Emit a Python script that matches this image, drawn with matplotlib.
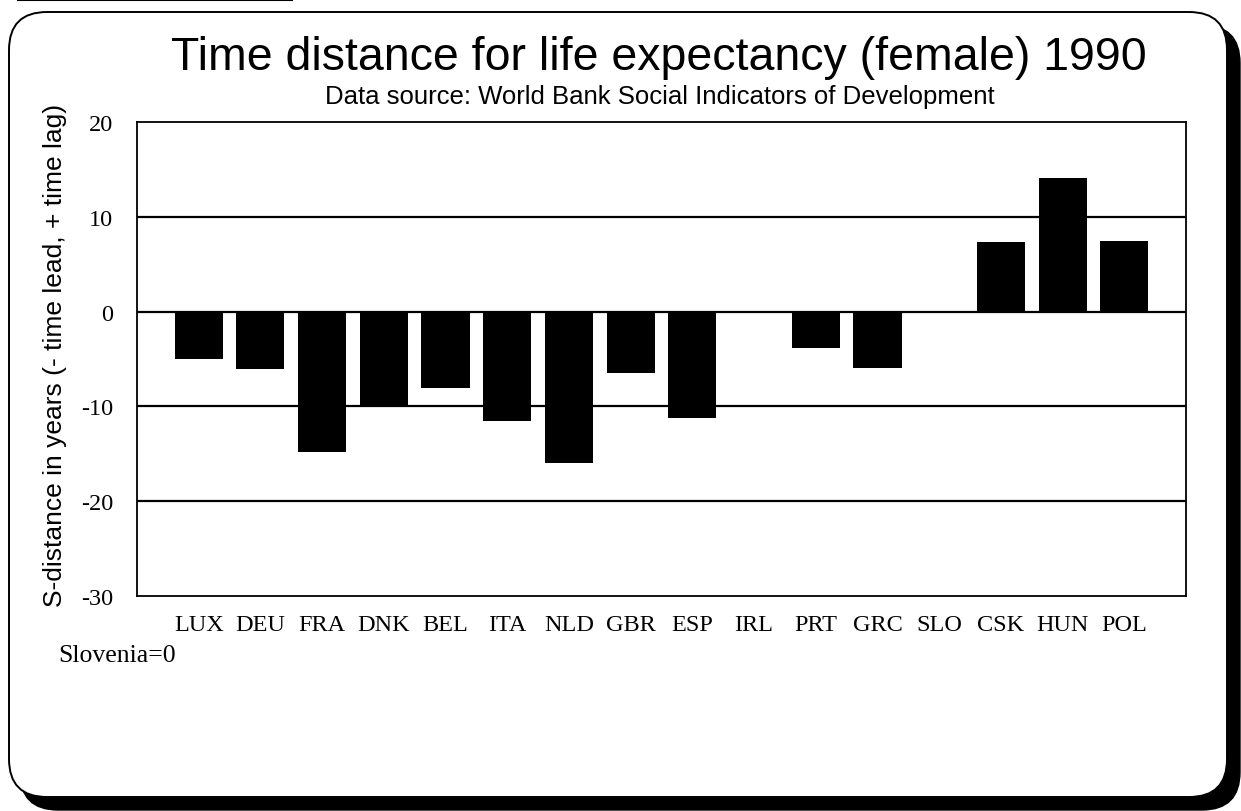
import matplotlib
matplotlib.use("Agg")
import matplotlib.pyplot as plt
from matplotlib.patches import FancyBboxPatch
from matplotlib.transforms import IdentityTransform
import numpy as np

plt.rcParams["axes.unicode_minus"] = False

countries = ["LUX", "DEU", "FRA", "DNK", "BEL", "ITA", "NLD", "GBR",
             "ESP", "IRL", "PRT", "GRC", "SLO", "CSK", "HUN", "POL"]
distance = [-5.0, -6.1, -14.8, -10.0, -8.1, -11.5, -16.0, -6.5,
            -11.2, 0.0, -3.8, -6.0, 0.0, 7.3, 14.1, 7.4]
yticks = [-30, -20, -10, 0, 10, 20]

W, H = 1241, 812
fig = plt.figure(figsize=(W / 100, H / 100), dpi=100)

# rounded frame with drop shadow (pixel coordinates)
shadow = FancyBboxPatch((20, 1), 1220, 785, boxstyle="round,pad=0,rounding_size=38",
                        transform=IdentityTransform(), facecolor="black",
                        edgecolor="black", zorder=0)
frame = FancyBboxPatch((9, 14), 1218, 785, boxstyle="round,pad=0,rounding_size=38",
                       transform=IdentityTransform(), facecolor="white",
                       edgecolor="black", linewidth=1.4, zorder=1)
fig.add_artist(shadow)
fig.add_artist(frame)
fig.add_artist(plt.Line2D([18 / W, 292 / W], [811 / H, 811 / H], color="black", lw=1.5))

ax = fig.add_axes([137 / W, 1 - 597 / H, 1049 / W, 474 / H])
ax.set_zorder(2)
x = np.arange(len(countries))
ax.bar(x, distance, width=0.78, color="black", zorder=3)
ax.set_xlim(-1, 16)
ax.set_ylim(-30, 20)
ax.set_yticks(yticks)
for v in yticks[1:-1]:
    ax.axhline(v, color="black", lw=1.6, zorder=2)
ax.set_xticks(x)
ax.set_xticklabels(countries)
ax.tick_params(length=0)
ax.tick_params(axis="y", pad=17)
ax.tick_params(axis="x", pad=13)
for lab in ax.get_xticklabels() + ax.get_yticklabels():
    lab.set_fontfamily("Liberation Serif")
    lab.set_fontsize(17.5)
for s in ax.spines.values():
    s.set_color("black")
    s.set_linewidth(1.3)

fig.text(659 / W, 1 - 70 / H, "Time distance for life expectancy (female) 1990",
         ha="center", va="baseline", fontsize=33.5, family="Liberation Sans", zorder=5)
fig.text(660 / W, 1 - 104 / H, "Data source: World Bank Social Indicators of Development",
         ha="center", va="baseline", fontsize=18.5, family="Liberation Sans", zorder=5)
fig.text(55 / W, 1 - 355 / H, "S-distance in years (- time lead, + time lag)",
         rotation=90, ha="center", va="center", fontsize=19, family="Liberation Sans", zorder=5)
fig.text(58 / W, 1 - 662 / H, "Slovenia=0", ha="left", va="baseline",
         fontsize=18.5, family="Liberation Serif", zorder=5)

fig.savefig("out.png", dpi=100)
